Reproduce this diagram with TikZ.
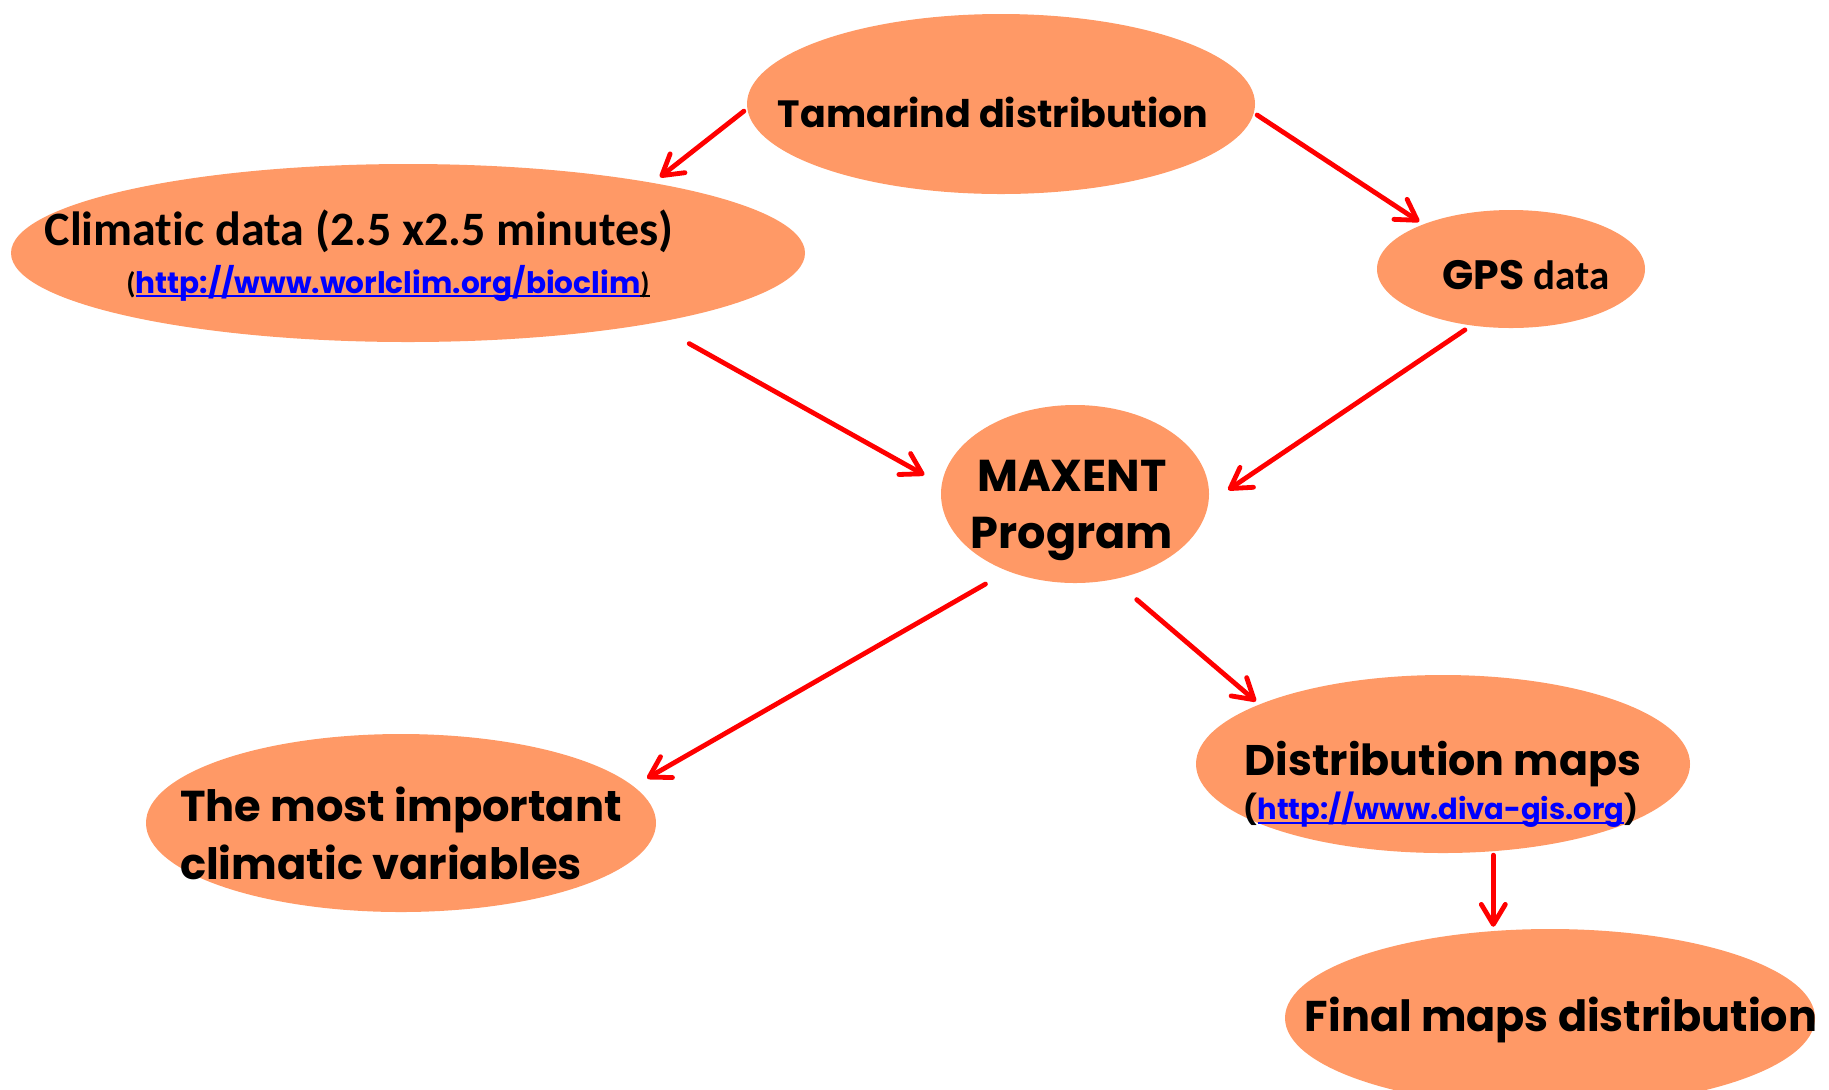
\documentclass[tikz,border=0pt]{standalone}
\usepackage{fontspec}
\setmainfont{Poppins}
\newfontfamily\calibri{Carlito}[Ligatures=NoCommon]
\usetikzlibrary{arrows.meta, shapes.geometric}
\definecolor{blobfill}{RGB}{255,153,102}
\definecolor{arrowred}{RGB}{255,0,0}
\definecolor{linkblue}{RGB}{0,0,255}
\newsavebox{\linkbox}
\newcommand{\ulbox}[1]{\sbox{\linkbox}{#1}\rlap{\rule[-2.2pt]{\wd\linkbox}{1.2pt}}\usebox{\linkbox}}
\newcommand{\weblink}[1]{\textcolor{linkblue}{\ulbox{#1}}}

\begin{document}
\begin{tikzpicture}[x=0.5pt, y=-0.5pt,
    blob/.style={ellipse, fill=blobfill, inner sep=0pt, outer sep=0pt},
    bigtext/.style={font=\bfseries\fontsize{19}{28}\selectfont, inner sep=0pt},
    flow/.style={draw=arrowred, line width=2.4pt, line cap=round, -{Straight Barb[length=10pt,width=12pt,round]}}]
    \useasboundingbox (0,0) rectangle (1829,1089);
    \clip (0,0) rectangle (1829,1089);

    % Ellipses
    \node[blob, minimum width=254pt, minimum height=90pt] (tam) at (1001,104) {};
    \node[blob, minimum width=397pt, minimum height=89pt] (clim) at (408,253) {};
    \node[blob, minimum width=134pt, minimum height=59pt] (gps) at (1511,269) {};
    \node[blob, minimum width=134pt, minimum height=89pt] (maxent) at (1075,494) {};
    \node[blob, minimum width=255pt, minimum height=89pt] (most) at (401,823) {};
    \node[blob, minimum width=247pt, minimum height=89pt] (dist) at (1443,764) {};
    \node[blob, minimum width=265pt, minimum height=89pt] (final) at (1550,1018) {};

    % Texts
    \node[bigtext] (tamtext) at (993,112) {Tamarind distribution};
    \node[font=\calibri\bfseries\fontsize{24}{28}\selectfont, inner sep=0pt] (climtext) at (359,231) {Climatic data (2.5 x2.5 minutes)};
    \node[font=\bfseries\fontsize{14.8}{18}\selectfont, inner sep=0pt] (climlink) at (388,283) {{\calibri(}\weblink{http://www.worlclim.org/bioclim}\ulbox{\calibri)}};
    \node[font=\bfseries\fontsize{20.5}{24}\selectfont, inner sep=0pt] (gpstext) at (1526,275) {GPS {\calibri data}};
    \node[bigtext, align=center, font=\bfseries\fontsize{22.3}{28.5}\selectfont] (maxtext) at (1072,510) {MAXENT\\Program};
    \node[bigtext, align=left, font=\bfseries\fontsize{21.6}{29}\selectfont] (mosttext) at (401,833) {The most important\\climatic variables};
    \node[bigtext, font=\bfseries\fontsize{21.4}{26}\selectfont] (disttext) at (1443,764) {Distribution maps};
    \node[font=\bfseries\fontsize{14.5}{18}\selectfont, inner sep=0pt] (distlink) at (1441,810) {(\weblink{http://www.diva-gis.org})};
    \node[bigtext, font=\bfseries\fontsize{21.5}{26}\selectfont] (finaltext) at (1561,1020) {Final maps distribution};

    % Arrows
    \draw[flow, shorten <=2.2pt, shorten >=4.7pt] (tam.181.2) -- (clim.16.1);
    \draw[flow, shorten <=2pt, shorten >=2.5pt] (tam.-2.9) -- (gps.153.5);
    \draw[flow, shorten <=21pt, shorten >=10pt] (clim.-16.2) -- (maxent.176.4);
    \draw[flow, shorten <=4pt, shorten >=12pt] (gps.235.1) -- (maxent.-4.6);
    \draw[flow, shorten <=13pt, shorten >=8pt] (maxent.229.4) -- (most.9.7);
    \draw[flow, shorten <=15.6pt, shorten >=2.4pt] (maxent.-66.4) -- (dist.162.4);
    \draw[flow, shorten <=2pt, shorten >=2pt] (dist.-60.3) -- (dist.-60.3 |- final.121.1);
\end{tikzpicture}
\end{document}
